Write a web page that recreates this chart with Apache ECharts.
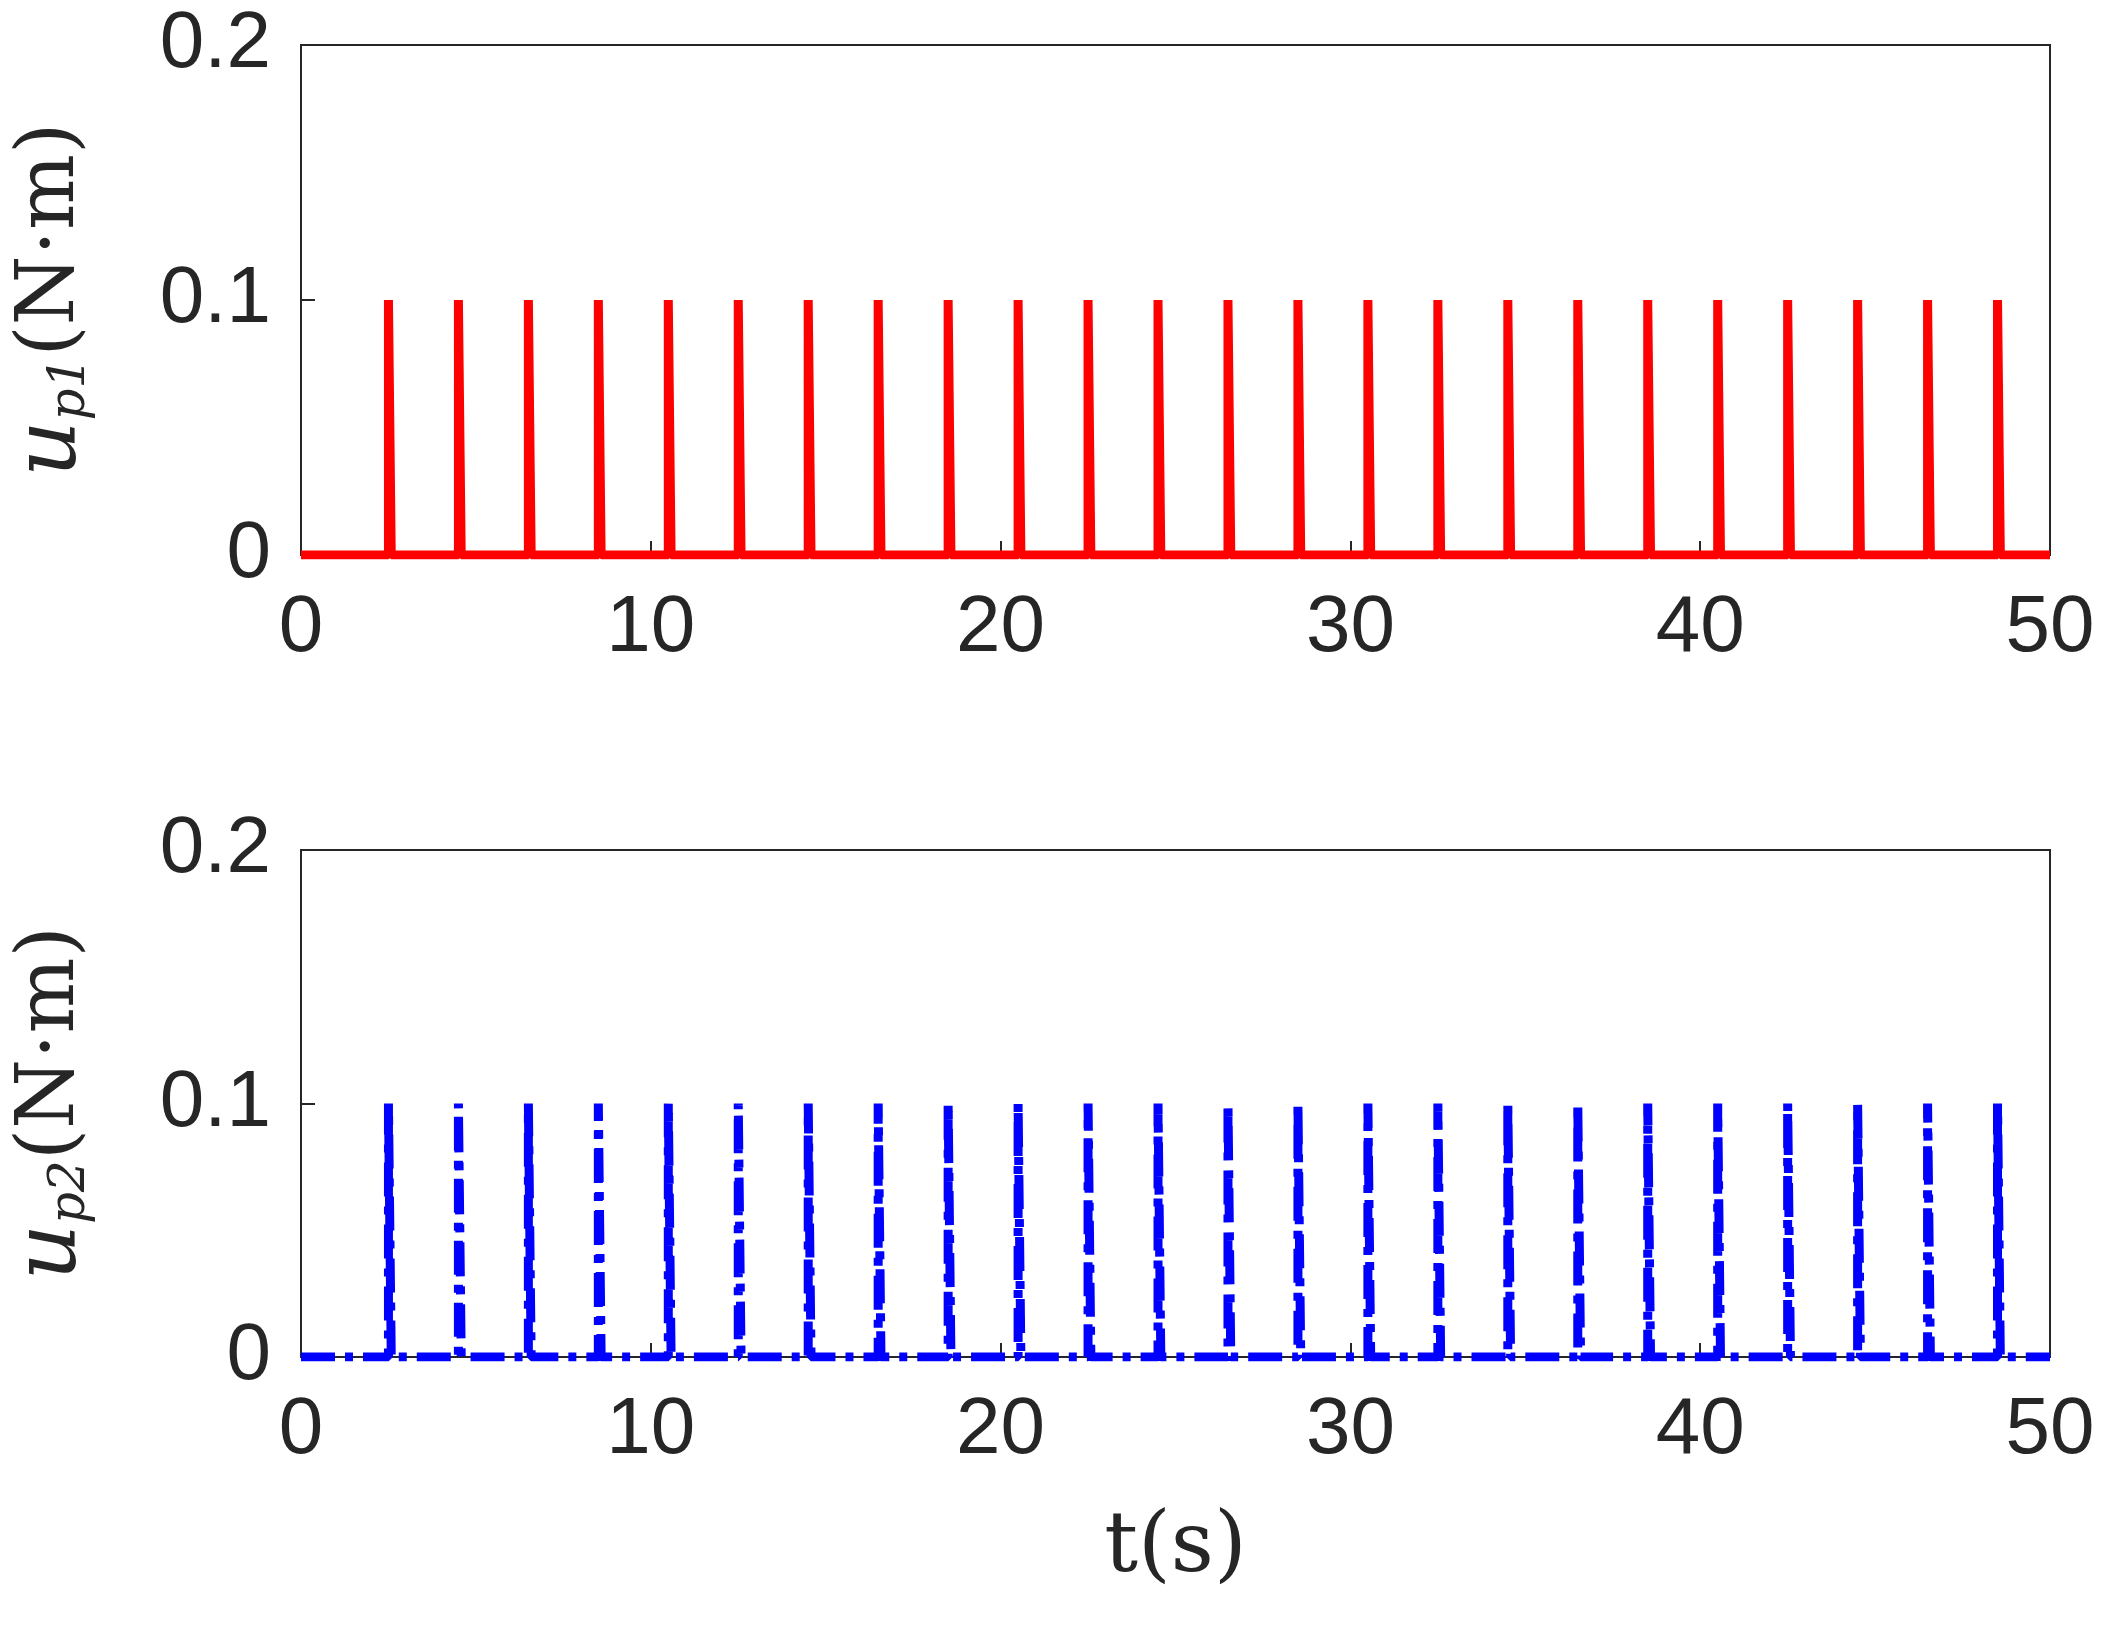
<!DOCTYPE html>
<html><head><meta charset="utf-8">
<script src="https://cdn.jsdelivr.net/npm/echarts@6/dist/echarts.min.js"></script>
<style>html,body{margin:0;background:#fff}#c{width:2110px;height:1625px}</style>
</head><body><div id="c"></div>
<script>
// pulse start times (s) and heights (N·m)
const pulseTimes = [2.5,4.5,6.5,8.5,10.5,12.5,14.5,16.5,18.5,20.5,22.5,24.5,26.5,28.5,30.5,32.5,34.5,36.5,38.5,40.5,42.5,44.5,46.5,48.5]
const pulseHeight1 = 0.1
const pulseHeight2 = 0.1
const xTicks = [0,10,20,30,40,50]
const yTicks = [0,0.1,0.2]

function pulseSeries(h) {
  const d = [[0,0]]
  pulseTimes.forEach(t => { d.push([t,0],[t,h],[t+0.04,h],[t+0.08,0]) })
  d.push([50,0])
  return d
}

const chart = echarts.init(document.getElementById('c'))
const axisFont = {fontFamily:'Liberation Sans', fontSize:80, color:'#262626'}
const grids = [{left:300,right:60,top:45,height:510,show:true,borderColor:'#262626',borderWidth:2},
               {left:300,right:60,top:850,height:507,show:true,borderColor:'#262626',borderWidth:2}]
const xAxis = [], yAxis = []
grids.forEach((g,i) => {
  xAxis.push({gridIndex:i,type:'value',min:0,max:50,interval:10,
    axisLine:{lineStyle:{color:'#262626',width:2}},axisTick:{inside:true,length:14,lineStyle:{width:2}},
    axisLabel:Object.assign({margin:34},axisFont),splitLine:{show:false},
    name:i===1?'t(s)':'',nameLocation:'middle',nameGap:150,
    nameTextStyle:{fontFamily:'DejaVu Serif',fontSize:84,color:'#262626'}})
  yAxis.push({gridIndex:i,type:'value',min:0,max:0.2,interval:0.1,
    axisLine:{show:true,lineStyle:{color:'#262626',width:2}},axisTick:{show:true,inside:true,length:14,lineStyle:{width:2}},
    axisLabel:Object.assign({margin:30,formatter:v=>v===0?'0':v.toFixed(1)},axisFont),splitLine:{show:false},
    name:'{i|u}{s|p' + (i+1) + '}(N·m)',nameLocation:'middle',nameGap:205,nameRotate:90,
    nameTextStyle:{fontFamily:'DejaVu Serif',fontSize:80,color:'#262626',
      rich:{i:{fontFamily:'DejaVu Serif',fontStyle:'italic',fontSize:88,color:'#262626'},
            s:{fontFamily:'DejaVu Serif',fontStyle:'italic',fontSize:50,color:'#262626',verticalAlign:'bottom',padding:[36,0,0,0]}}}})
})
chart.setOption({
  animation:false,
  grid:grids,
  xAxis:xAxis,
  yAxis:yAxis,
  series:[
    {type:'line',xAxisIndex:0,yAxisIndex:0,data:pulseSeries(pulseHeight1),showSymbol:false,
      lineStyle:{color:'#ff0000',width:9}},
    {type:'line',xAxisIndex:1,yAxisIndex:1,data:pulseSeries(pulseHeight2),showSymbol:false,
      lineStyle:{color:'#0000ff',width:9,type:[34,10,8,10]}}
  ]
})
</script></body></html>
